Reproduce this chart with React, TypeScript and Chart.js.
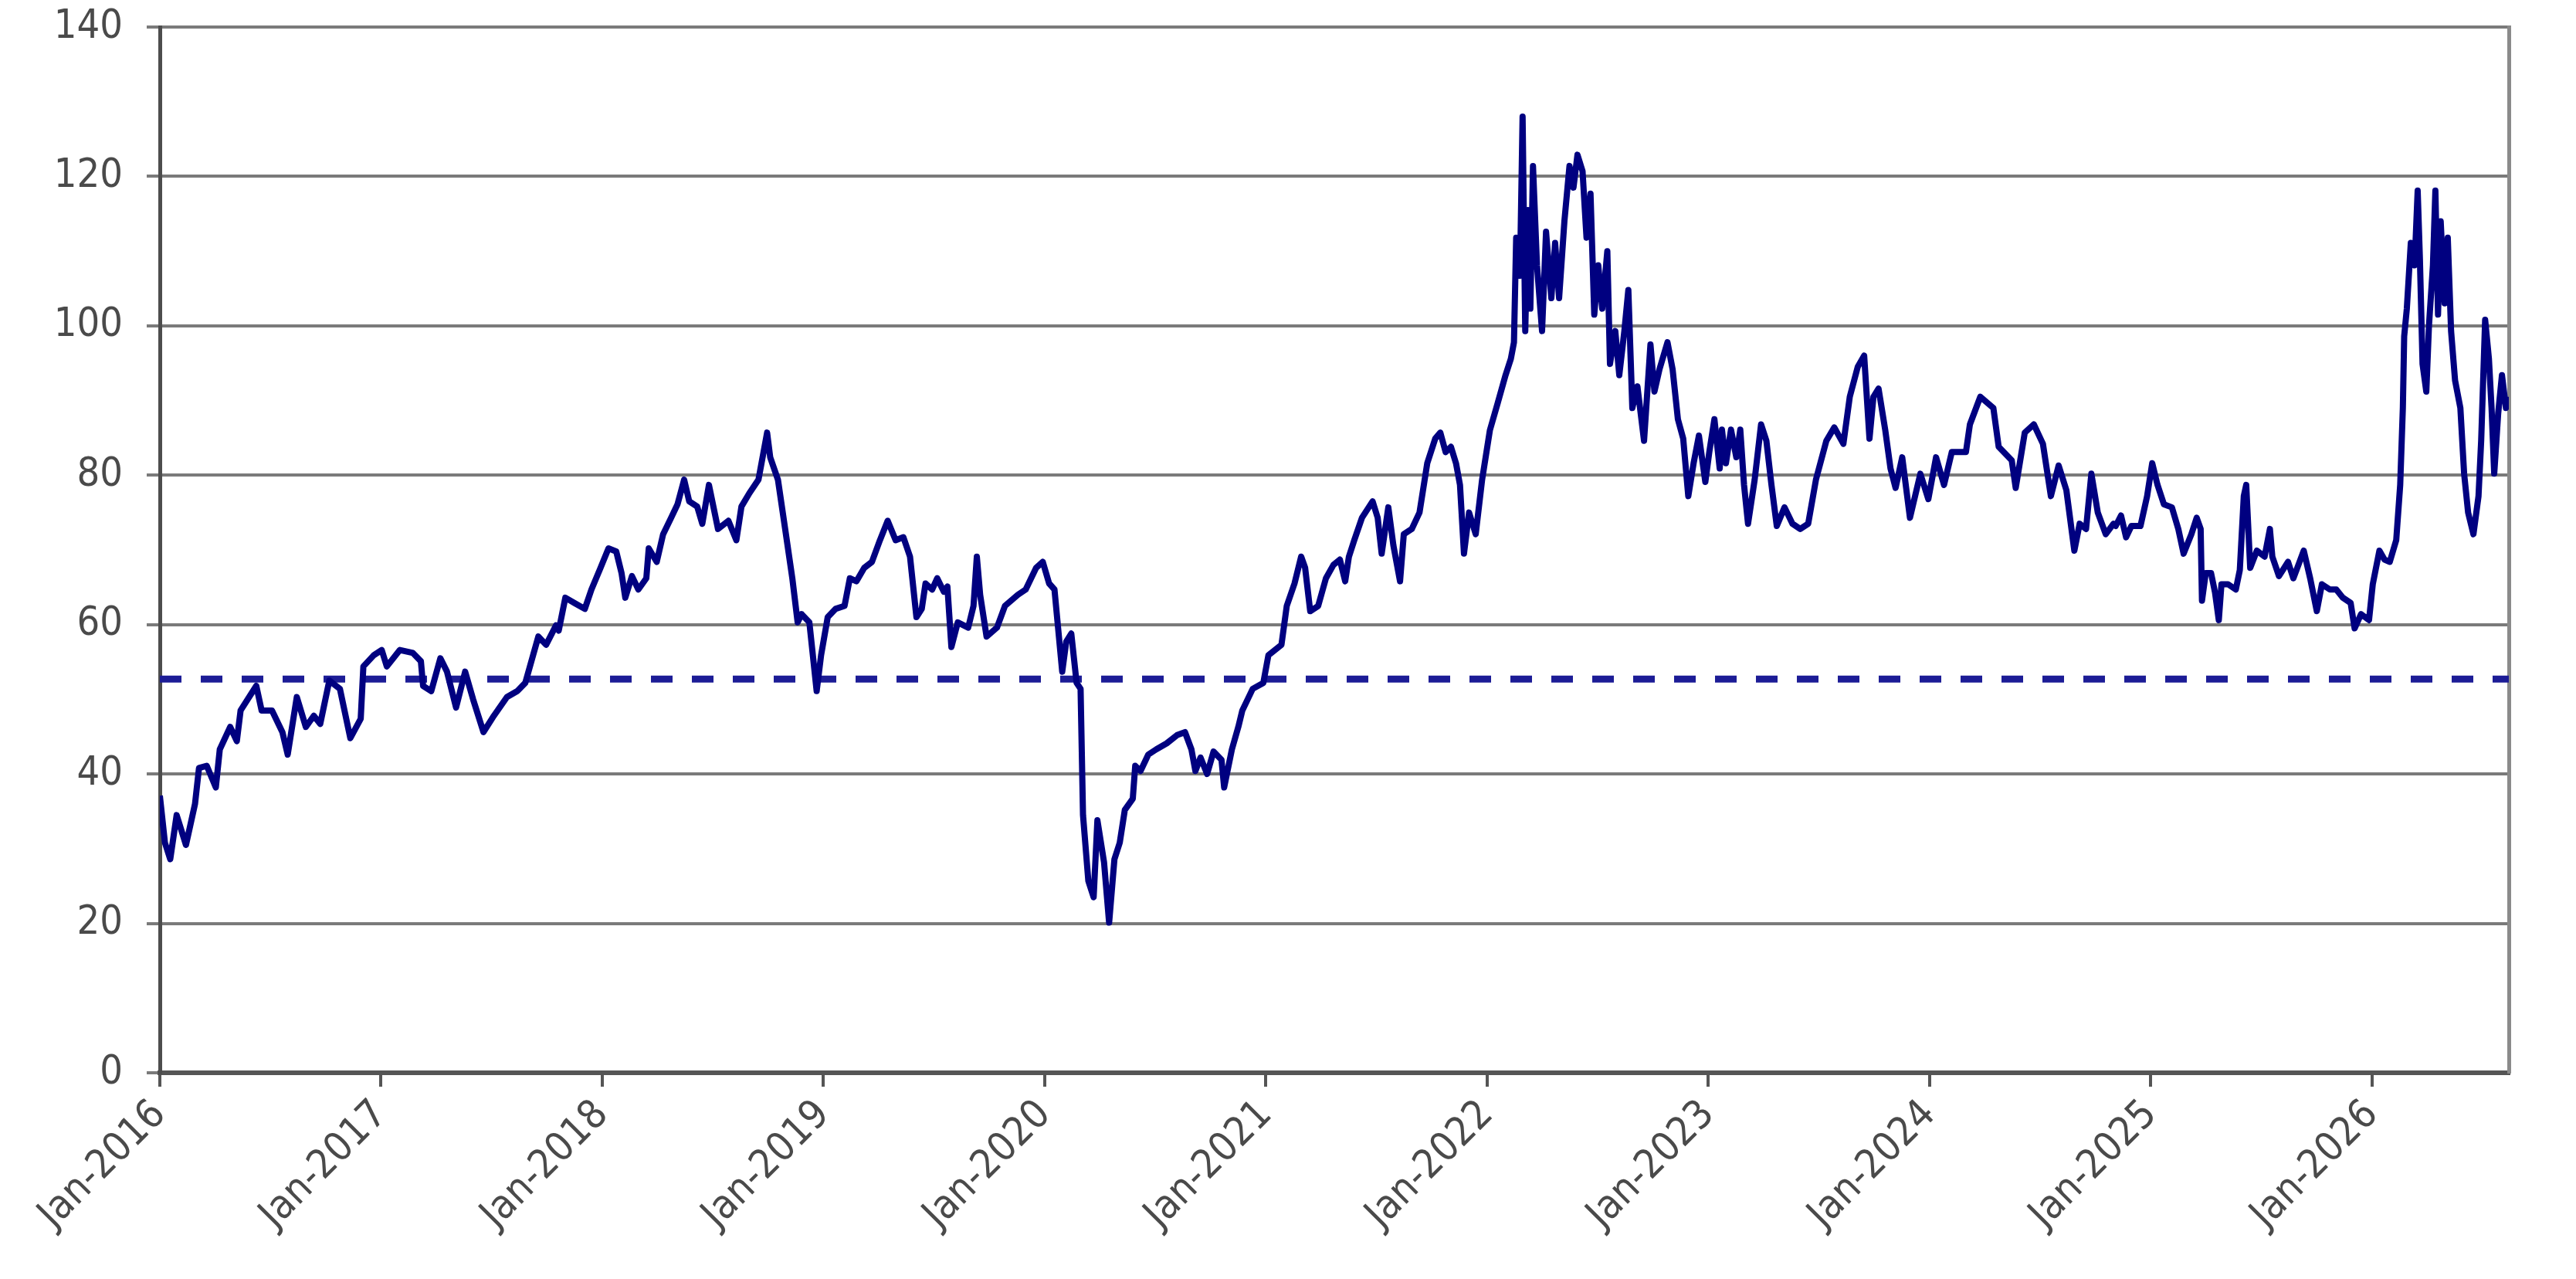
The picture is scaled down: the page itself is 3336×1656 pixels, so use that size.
import React, { useRef, useEffect } from "react";
import { Chart, registerables } from "chart.js";

Chart.register(...registerables);

// x positions are decimal years (2016.5 = mid 2016)
const yearStarts = [2016, 2017, 2018, 2019, 2020, 2021, 2022, 2023, 2024, 2025, 2026];
const yearLabels = [
  "Jan-2016", "Jan-2017", "Jan-2018", "Jan-2019", "Jan-2020", "Jan-2021",
  "Jan-2022", "Jan-2023", "Jan-2024", "Jan-2025", "Jan-2026",
];
const axisEnd = 2026.618;
const averageLevel = 52.7;

const dates16_17 = [
  2016.0, 2016.023, 2016.047, 2016.076, 2016.118, 2016.159, 2016.177, 2016.212, 2016.253, 2016.271,
  2016.318, 2016.348, 2016.365, 2016.436, 2016.46, 2016.507, 2016.554, 2016.578, 2016.619, 2016.66,
  2016.696, 2016.725, 2016.766, 2016.814, 2016.861, 2016.908, 2016.92, 2016.967, 2017.003, 2017.026,
  2017.085, 2017.144, 2017.18, 2017.19, 2017.227, 2017.268, 2017.298, 2017.339, 2017.38, 2017.416,
  2017.463, 2017.51, 2017.569, 2017.616, 2017.652, 2017.711, 2017.746, 2017.791,
];
const values16_17 = [
  37.1, 30.8, 28.6, 34.5, 30.5, 36, 40.8, 41.1, 38.2, 43.3,
  46.3, 44.4, 48.5, 51.8, 48.5, 48.5, 45.6, 42.6, 50.3, 46.3,
  47.8, 46.7, 52.5, 51.4, 44.8, 47.4, 54.4, 55.9, 56.6, 54.4,
  56.6, 56.2, 55.1, 51.8, 51.1, 55.5, 53.7, 48.9, 53.7, 50,
  45.6, 47.8, 50.3, 51.1, 52.2, 58.4, 57.3, 59.9,
];

const dates17_19 = [
  2017.803, 2017.833, 2017.874, 2017.921, 2017.951, 2017.992, 2018.028, 2018.063, 2018.087, 2018.104,
  2018.134, 2018.163, 2018.199, 2018.21, 2018.246, 2018.275, 2018.311, 2018.34, 2018.37, 2018.393,
  2018.429, 2018.452, 2018.482, 2018.523, 2018.57, 2018.606, 2018.629, 2018.665, 2018.706, 2018.729,
  2018.745, 2018.759, 2018.794, 2018.83, 2018.859, 2018.883, 2018.901, 2018.936, 2018.969, 2018.989,
  2019.019, 2019.054, 2019.095, 2019.119, 2019.149, 2019.184, 2019.219, 2019.255, 2019.29, 2019.326,
  2019.361, 2019.391, 2019.42, 2019.444, 2019.461, 2019.491, 2019.514, 2019.544,
];
const values17_19 = [
  59.2, 63.6, 62.9, 62.1, 64.7, 67.6, 70.2, 69.8, 66.9, 63.6,
  66.5, 64.7, 66.2, 70.2, 68.4, 72.1, 74.3, 76.1, 79.4, 76.5,
  75.8, 73.5, 78.7, 72.8, 73.9, 71.3, 75.8, 77.6, 79.4, 83.1,
  85.7, 82.4, 79.4, 72.1, 66.2, 60.3, 61.4, 60.3, 51.1, 55.9,
  61, 62.1, 62.5, 66.2, 65.8, 67.6, 68.4, 71.3, 73.9, 71.3,
  71.7, 69.1, 61, 62.1, 65.5, 64.7, 66.2, 64.4,
];

const dates19_21 = [
  2019.56, 2019.578, 2019.607, 2019.654, 2019.678, 2019.693, 2019.708, 2019.737, 2019.784, 2019.82,
  2019.879, 2019.914, 2019.961, 2019.991, 2020.02, 2020.044, 2020.079, 2020.097, 2020.12, 2020.144,
  2020.162, 2020.173, 2020.197, 2020.221, 2020.238, 2020.268, 2020.291, 2020.315, 2020.339, 2020.362,
  2020.398, 2020.409, 2020.433, 2020.468, 2020.504, 2020.551, 2020.598, 2020.634, 2020.663, 2020.681,
  2020.704, 2020.734, 2020.763, 2020.799, 2020.811, 2020.846, 2020.875, 2020.893, 2020.94, 2020.988,
  2021.011, 2021.07, 2021.094, 2021.129, 2021.159, 2021.177, 2021.2, 2021.236, 2021.271,
];
const values19_21 = [
  65.1, 57, 60.3, 59.6, 62.5, 69.1, 64, 58.4, 59.6, 62.5,
  64, 64.7, 67.6, 68.4, 65.5, 64.7, 53.7, 57.7, 58.8, 52.2,
  51.4, 34.5, 25.7, 23.5, 33.8, 28.2, 20.1, 28.6, 30.8, 35.2,
  36.7, 41.1, 40.4, 42.6, 43.3, 44.1, 45.2, 45.6, 43.3, 40.4,
  42.2, 40, 43, 41.9, 38.2, 43.3, 46.3, 48.5, 51.4, 52.2,
  55.9, 57.3, 62.5, 65.5, 69.1, 67.6, 61.8, 62.5, 66.2,
];

const dates21_23 = [
  2021.305, 2021.334, 2021.358, 2021.375, 2021.399, 2021.434, 2021.482, 2021.505, 2021.523,
  2021.553, 2021.576, 2021.606, 2021.623, 2021.659, 2021.694, 2021.729, 2021.765, 2021.788, 2021.812,
  2021.836, 2021.859, 2021.877, 2021.895, 2021.918, 2021.948, 2021.977, 2022.012, 2022.048, 2022.083,
  2022.107, 2022.121, 2022.131, 2022.148, 2022.16, 2022.172, 2022.184, 2022.195, 2022.207, 2022.225,
  2022.248, 2022.266, 2022.29, 2022.307, 2022.325, 2022.349, 2022.372, 2022.39, 2022.408, 2022.431,
  2022.449, 2022.467, 2022.484, 2022.502, 2022.52, 2022.543, 2022.555, 2022.579, 2022.597, 2022.62,
  2022.638, 2022.656, 2022.679, 2022.709, 2022.738, 2022.756, 2022.779, 2022.815, 2022.838, 2022.862,
  2022.886, 2022.909, 2022.933, 2022.957, 2022.986, 2023.004, 2023.027, 2023.051,
];
const values21_23 = [
  68, 68.7, 65.8, 69.1, 71.3, 74.3, 76.5, 74.3, 69.5,
  75.7, 70.6, 65.8, 72.1, 72.8, 75, 81.6, 84.9, 85.7, 83.1,
  83.8, 81.6, 78.7, 69.5, 75, 72.1, 79.4, 86, 89.7, 93.4,
  95.6, 97.8, 111.8, 106.7, 128, 99.3, 115.5, 102.3, 121.4, 108.1,
  99.3, 112.6, 103.7, 111.1, 103.7, 114, 121.4, 118.5, 122.9, 120.7,
  111.8, 117.7, 101.5, 108.1, 102.3, 110, 94.9, 99.3, 93.4, 99.3,
  104.8, 89, 91.9, 84.6, 97.5, 91.2, 94.2, 97.8, 94.2, 87.5,
  84.9, 77.2, 81.6, 85.3, 79.1, 83.1, 87.5, 80.9,
];

const dates23_24 = [
  2023.061, 2023.079, 2023.102, 2023.126, 2023.144, 2023.161, 2023.179, 2023.209, 2023.238, 2023.262,
  2023.285, 2023.309, 2023.344, 2023.38, 2023.415, 2023.451, 2023.486, 2023.533, 2023.569, 2023.61,
  2023.639, 2023.675, 2023.704, 2023.728, 2023.746, 2023.769, 2023.799, 2023.823, 2023.846, 2023.876,
  2023.911, 2023.958, 2023.994, 2024.029, 2024.065, 2024.1, 2024.164, 2024.182, 2024.229, 2024.288,
  2024.312, 2024.371, 2024.389, 2024.43, 2024.471, 2024.512, 2024.548, 2024.583, 2024.618, 2024.654,
  2024.678, 2024.707, 2024.731, 2024.76, 2024.796, 2024.831,
];
const values23_24 = [
  86.1, 81.6, 86.1, 82.4, 86.1, 78.7, 73.5, 79.4, 86.8, 84.6,
  78.7, 73.2, 75.7, 73.5, 72.8, 73.5, 79.4, 84.6, 86.4, 84.2,
  90.5, 94.5, 96, 84.9, 90.5, 91.6, 86.1, 80.9, 78.3, 82.4,
  74.3, 80.2, 76.8, 82.4, 78.7, 83.1, 83.1, 86.8, 90.5, 89,
  83.8, 82, 78.3, 85.7, 86.8, 84.2, 77.2, 81.3, 78, 69.9,
  73.5, 72.8, 80.2, 75, 72.1, 73.5,
];

const dates24_26 = [
  2024.841, 2024.865, 2024.888, 2024.912, 2024.953, 2024.983, 2025.006, 2025.03, 2025.059, 2025.095,
  2025.124, 2025.148, 2025.183, 2025.207, 2025.225, 2025.231, 2025.248, 2025.272, 2025.29, 2025.307,
  2025.319, 2025.349, 2025.384, 2025.402, 2025.42, 2025.431, 2025.449, 2025.479, 2025.514, 2025.538,
  2025.549, 2025.579, 2025.62, 2025.644, 2025.667, 2025.691, 2025.72, 2025.75, 2025.773, 2025.809,
  2025.838, 2025.868, 2025.903, 2025.921, 2025.95, 2025.986, 2026.003, 2026.033, 2026.056, 2026.08,
  2026.109, 2026.127, 2026.139, 2026.145, 2026.157, 2026.175, 2026.192, 2026.206, 2026.216, 2026.228,
  2026.245, 2026.257, 2026.275, 2026.286, 2026.298, 2026.31, 2026.328, 2026.342, 2026.357, 2026.375,
  2026.399, 2026.416, 2026.434, 2026.458, 2026.481, 2026.493, 2026.511, 2026.528, 2026.54, 2026.552,
  2026.57, 2026.587, 2026.605, 2026.617,
];
const values24_26 = [
  73.2, 74.6, 71.7, 73.2, 73.2, 77.2, 81.6, 78.7, 76.1, 75.7,
  72.8, 69.5, 72.1, 74.3, 72.8, 63.2, 66.9, 66.9, 64.3, 60.6,
  65.4, 65.4, 64.7, 67.3, 77.2, 78.7, 67.6, 69.9, 69.1, 72.8,
  69.1, 66.5, 68.4, 66.2, 68, 69.9, 66.2, 61.8, 65.4, 64.7,
  64.7, 63.6, 62.9, 59.5, 61.4, 60.6, 65.4, 69.9, 68.7, 68.4,
  71.3, 78.7, 89, 98.6, 102.3, 111.1, 108.1, 118.1, 109, 94.9,
  91.2, 100, 108.1, 118.1, 101.5, 114, 103, 111.8, 99.3, 92.7,
  89, 80.2, 75, 72.1, 77.2, 84.6, 100.8, 95.6, 89, 80.2,
  88.3, 93.4, 89, 90.5,
];

const dates = [...dates16_17, ...dates17_19, ...dates19_21, ...dates21_23, ...dates23_24, ...dates24_26];
const values = [...values16_17, ...values17_19, ...values19_21, ...values21_23, ...values23_24, ...values24_26];

const tickFont = { family: "'DejaVu Sans Condensed', 'DejaVu Sans', sans-serif", size: 52 };

const App = () => {
  const canvasRef = useRef<HTMLCanvasElement | null>(null);
  const chartRef = useRef<Chart | null>(null);

  useEffect(() => {
    if (chartRef.current) {
      chartRef.current.destroy();
    }
    const ctx = canvasRef.current?.getContext("2d");
    if (!ctx) return;

    chartRef.current = new Chart(ctx, {
      type: "line",
      data: {
        datasets: [
          {
            data: dates.map((d, i) => ({ x: d, y: values[i] })),
            borderColor: "#000080",
            borderWidth: 8,
            borderJoinStyle: "round",
            pointRadius: 0,
            tension: 0,
            order: 0,
          },
          {
            data: [
              { x: yearStarts[0], y: averageLevel },
              { x: axisEnd, y: averageLevel },
            ],
            borderColor: "#1c1c96",
            borderWidth: 9,
            borderDash: [28, 25],
            pointRadius: 0,
            order: 1,
          },
        ],
      },
      options: {
        animation: false,
        responsive: true,
        maintainAspectRatio: false,
        layout: { padding: { top: 35, right: 87, bottom: 0, left: 0 } },
        plugins: { legend: { display: false }, tooltip: { enabled: false } },
        scales: {
          x: {
            type: "linear",
            min: yearStarts[0],
            max: axisEnd,
            afterBuildTicks: (scale: any) => {
              scale.ticks = yearStarts.map((v) => ({ value: v }));
            },
            afterFit: (scale: any) => {
              scale.height = 267;
            },
            ticks: {
              autoSkip: false,
              minRotation: 45,
              maxRotation: 45,
              padding: 6,
              color: "#4a4a4a",
              font: tickFont,
              callback: (v: any) => yearLabels[yearStarts.indexOf(Number(v))] ?? "",
            },
            grid: {
              drawOnChartArea: false,
              drawTicks: true,
              tickLength: 18,
              color: "#555555",
              lineWidth: 4,
            },
            border: { color: "#555555", width: 6 },
          },
          y: {
            min: 0,
            max: 140,
            afterFit: (scale: any) => {
              // keep the plot top where the reference has it
              scale.width = 207;
              scale.paddingTop = 0;
              scale.paddingBottom = 0;
            },
            ticks: { stepSize: 20, padding: 31, color: "#4a4a4a", font: tickFont },
            grid: { color: "#7a7a7a", lineWidth: 4, tickLength: 17 },
            border: { color: "#4d4d4d", width: 5 },
          },
          y2: {
            position: "right",
            min: 0,
            max: 140,
            afterFit: (scale: any) => {
              scale.width = 0;
              scale.paddingTop = 0;
              scale.paddingBottom = 0;
            },
            ticks: { display: false },
            grid: { display: false, drawTicks: false },
            border: { color: "#8a8a8a", width: 5 },
          },
        },
      },
    });

    return () => {
      if (chartRef.current) {
        chartRef.current.destroy();
        chartRef.current = null;
      }
    };
  }, []);

  return (
    <div style={{ position: "fixed", left: 0, top: 0, width: 3336, height: 1656, background: "#fff" }}>
      <canvas ref={canvasRef} />
    </div>
  );
};

export default App;
